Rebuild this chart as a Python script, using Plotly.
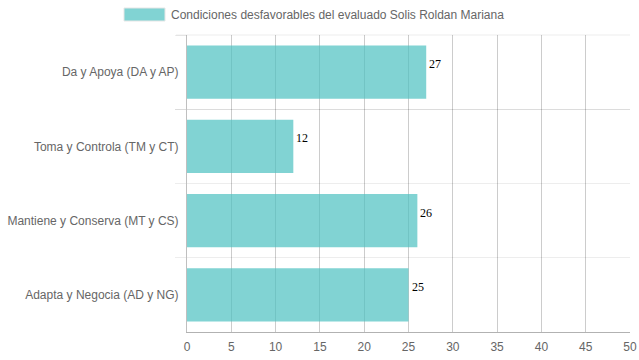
import plotly.graph_objects as go

categories = ["Da y Apoya (DA y AP)", "Toma y Controla (TM y CT)",
              "Mantiene y Conserva (MT y CS)", "Adapta y Negocia (AD y NG)"]
values = [27, 12, 26, 25]
series_name = "Condiciones desfavorables del evaluado Solis Roldan Mariana"
x_ticks = [0, 5, 10, 15, 20, 25, 30, 35, 40, 45, 50]

fill = "rgba(75,192,192,0.7)"
font_family = "Liberation Sans, Arial, sans-serif"

fig = go.Figure()
fig.add_trace(go.Bar(
    y=categories, x=values, orientation="h",
    marker=dict(color=fill, line=dict(width=0)),
    name=series_name, showlegend=False, hoverinfo="skip",
))

for c, v in zip(categories, values):
    fig.add_annotation(x=v, y=c, text=str(v), showarrow=False,
                       xanchor="left", yanchor="middle", xshift=1, yshift=8,
                       font=dict(family="Liberation Serif, Times New Roman, serif",
                                 size=12, color="#000"))

W, H = 443.0, 297.0
# top border line of the category area (Chart.js draws a grid line there)
fig.add_shape(type="line", xref="paper", yref="paper", x0=-11 / W, x1=1, y0=1, y1=1,
              line=dict(color="rgba(0,0,0,0.07)", width=1))

# manual legend (Chart.js style wide box)
fig.add_shape(type="rect", xref="paper", yref="paper",
              x0=(124 - 187) / W, x1=(165 - 187) / W,
              y0=(332 - 21) / H, y1=(332 - 8) / H,
              fillcolor=fill, line=dict(color="rgba(230,230,230,1)", width=1))
fig.add_annotation(xref="paper", yref="paper", x=(169 - 187) / W, y=(332 - 14.5) / H,
                   text=series_name, showarrow=False, xanchor="left", yanchor="middle",
                   font=dict(family=font_family, size=12, color="#666"))

fig.update_layout(
    width=639, height=360,
    margin=dict(l=187, r=9, t=35, b=28, autoexpand=False),
    plot_bgcolor="white", paper_bgcolor="white",
    font=dict(family=font_family, size=12, color="#666"),
    bargap=0.28,
    xaxis=dict(range=[0, 50], tickvals=x_ticks, showgrid=True, automargin=False,
               gridcolor="rgba(0,0,0,0.2)", gridwidth=1,
               zeroline=False, showline=True, linecolor="rgba(0,0,0,0.3)",
               ticks="", ticklabelstandoff=4,
               tickfont=dict(size=12, color="#666"), fixedrange=True),
    yaxis=dict(autorange="reversed", type="category", tickson="boundaries",
               automargin=False,
               showgrid=True, gridcolor="rgba(0,0,0,0.07)", gridwidth=1,
               showline=True, linecolor="rgba(0,0,0,0.25)", linewidth=1,
               ticks="outside", ticklen=11, tickcolor="rgba(0,0,0,0.07)",
               ticklabelstandoff=5,
               tickfont=dict(size=12, color="#666"), fixedrange=True),
)

fig.write_html("out.html", config={"displayModeBar": False},
               post_script="document.body.style.margin='0';document.body.style.overflow='hidden';")
